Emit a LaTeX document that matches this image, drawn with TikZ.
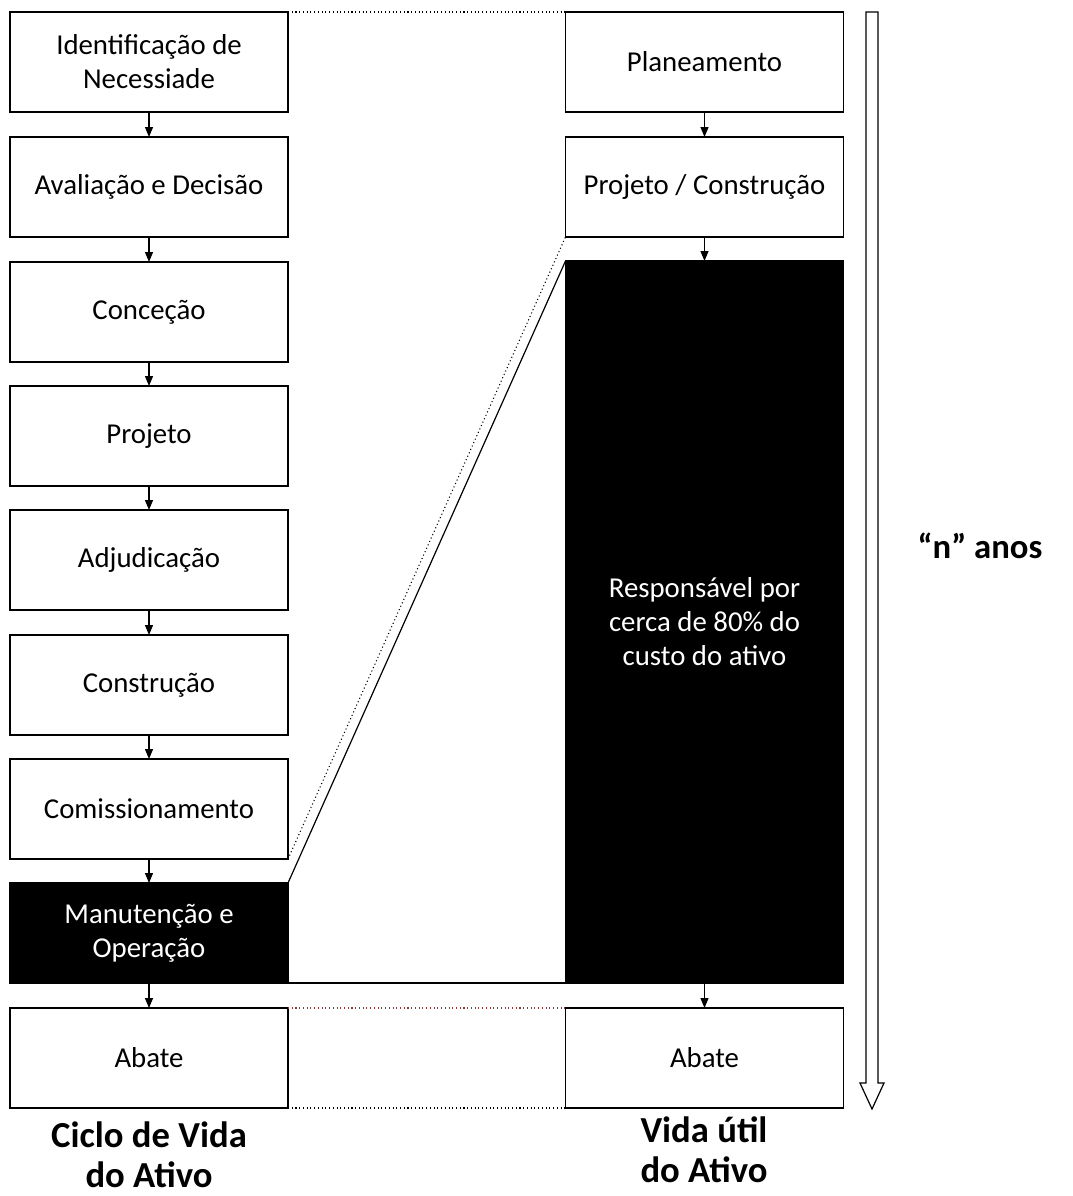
\documentclass[tikz,border=0pt]{standalone}
\usepackage{fontspec}
\setmainfont{Carlito}
\usetikzlibrary{arrows.meta}
\definecolor{dotred}{HTML}{8B3A3A}
\begin{document}
\begin{tikzpicture}[x=0.75pt,y=-0.75pt,
  stage/.style={draw=black,line width=0.9pt,fill=white,minimum width=208.5pt,
    minimum height=75pt,inner sep=2pt,outer sep=0pt,align=center,
    font=\fontsize{21.6}{25.5}\selectfont},
  dark/.style={stage,fill=black,text=white},
  flow/.style={line width=0.9pt,-{Triangle[width=6pt,length=7.5pt]}},
  link/.style={line width=0.9pt},
  dots/.style={line width=0.8pt,dotted},
  caption/.style={align=center,inner sep=0pt,font=\fontsize{27.5}{30}\selectfont\bfseries}]
\useasboundingbox (0,0) rectangle (1072,1196);

% life cycle of the asset
\node[stage] (id)  at (149,62)   {Identificação de\\Necessiade};
\node[stage] (av)  at (149,187)  {Avaliação e Decisão};
\node[stage] (con) at (149,312)  {Conceção};
\node[stage] (prj) at (149,436)  {Projeto};
\node[stage] (adj) at (149,560)  {Adjudicação};
\node[stage] (cst) at (149,685)  {Construção};
\node[stage] (com) at (149,809)  {Comissionamento};
\node[dark]  (man) at (149,933)  {Manutenção e\\Operação};
\node[stage] (abl) at (149,1058) {Abate};

% useful life of the asset
\node[stage] (pla) at (704.5,62)   {Planeamento};
\node[stage] (pc)  at (704.5,187)  {Projeto / Construção};
\node[dark,minimum height=541.5pt] (resp) at (704.5,622) {Responsável por\\cerca de 80\% do\\custo do ativo};
\node[stage] (abr) at (704.5,1058) {Abate};

\foreach \a/\b in {id/av,av/con,con/prj,prj/adj,adj/cst,cst/com,com/man,man/abl,pla/pc,pc/resp,resp/abr}
  \draw[flow] (\a.south) -- (\b.north);

% correspondence between the two columns
\draw[dots] (id.north east) -- (pla.north west);
\draw[dots] (com.south east) -- (pc.south west);
\draw[link] (man.north east) -- (resp.north west);
\draw[link] (man.south east) -- (resp.south west);
\draw[dots,dotred] (abl.north east) -- (abr.north west);
\draw[dots] (abl.south east) -- (abr.south west);

% time axis
\draw[line width=0.9pt,fill=white] (866,12) -- (878,12) -- (878,1083) -- (884,1083)
  -- (872,1109) -- (860,1083) -- (866,1083) -- cycle;
\node[caption,font=\fontsize{26}{30}\selectfont\bfseries] (years) at (980,546) {“n” anos};

\node[caption] (cap1) at (149,1155) {Ciclo de Vida\\do Ativo};
\node[caption] (cap2) at (704,1150) {Vida útil\\do Ativo};
\end{tikzpicture}
\end{document}
